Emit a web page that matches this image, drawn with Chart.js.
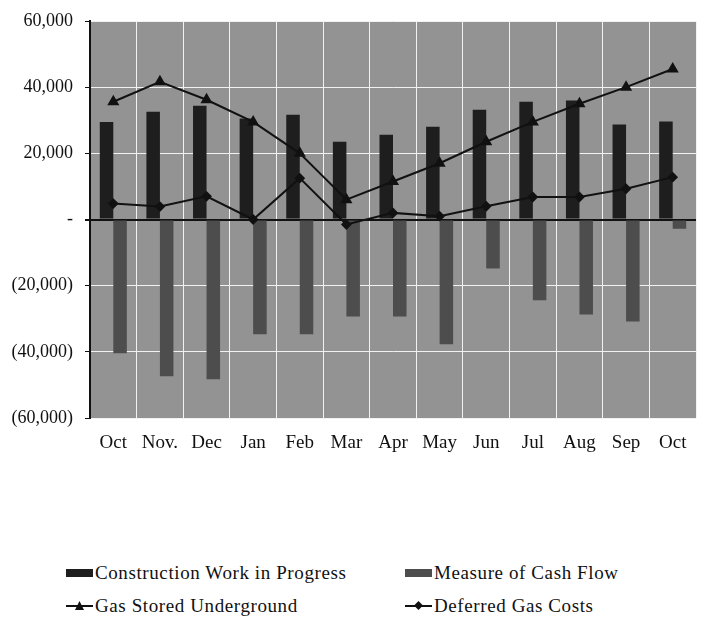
<!DOCTYPE html>
<html>
<head>
<meta charset="utf-8">
<script src="https://cdn.jsdelivr.net/npm/chart.js@4.4.1/dist/chart.umd.min.js"></script>
<style>
  html, body { margin: 0; padding: 0; background: #fff; }
  #wrap { position: relative; width: 703px; height: 620px; }
  #chart-box { position: absolute; left: 0; top: 0; width: 703px; height: 460px; }
  .legend-item { position: absolute; font-family: "Liberation Serif", "Times New Roman", serif; font-size: 19px; letter-spacing: 0.6px; color: #111; white-space: nowrap; line-height: 20px; }
  .swatch { display: inline-block; position: relative; width: 27px; height: 20px; vertical-align: top; margin-right: 2px; }
  .swatch .bar { position: absolute; left: 0; top: 6px; width: 27px; height: 8px; }
  .swatch .line { position: absolute; left: 0; top: 9px; width: 27px; height: 2px; background: #111; }
  .swatch .mark { position: absolute; left: 9px; top: 5px; width: 9px; height: 9px; }
</style>
</head>
<body>
<div id="wrap">
  <div id="chart-box"><canvas id="cash-chart" width="703" height="460"></canvas></div>
  <div id="legend"></div>
</div>
<script>
const months = ['Oct', 'Nov.', 'Dec', 'Jan', 'Feb', 'Mar', 'Apr', 'May', 'Jun', 'Jul', 'Aug', 'Sep', 'Oct'];
const constructionWip = [29500, 32600, 34400, 30500, 31700, 23500, 25600, 28000, 33200, 35600, 36000, 28700, 29600];
const cashFlow = [-40400, -47400, -48300, -34700, -34700, -29300, -29300, -37700, -14800, -24400, -28700, -30800, -2800];
const gasStored = [35600, 41600, 36200, 29500, 20000, 6000, 11500, 17000, 23500, 29500, 35000, 40000, 45500];
const deferredGas = [4800, 3900, 7000, 0, 12500, -1500, 2000, 1000, 4000, 6800, 6800, 9300, 12800];
const yTicks = [-60000, -40000, -20000, 0, 20000, 40000, 60000];

const serif = '"Liberation Serif", "Times New Roman", serif';

function fmtTick(v) {
    if (v === 0) return '-';
    const s = Math.abs(v).toLocaleString('en-US');
    return v < 0 ? '(' + s + ')' : s;
}

// grey plot area like the scanned original
const plotBg = {
    id: 'plotBg',
    beforeDraw(chart) {
        const a = chart.chartArea;
        const ctx = chart.ctx;
        ctx.save();
        ctx.fillStyle = '#939393';
        ctx.fillRect(a.left, a.top, a.right - a.left, a.bottom - a.top);
        ctx.restore();
    }
};

const ctx = document.getElementById('cash-chart').getContext('2d');
const cashChart = new Chart(ctx, {
    type: 'bar',
    data: {
        labels: months,
        datasets: [
            {
                type: 'line',
                label: 'Gas Stored Underground',
                data: gasStored,
                borderColor: '#111',
                backgroundColor: '#111',
                borderWidth: 2,
                pointStyle: 'triangle',
                pointRadius: 5,
                tension: 0,
                order: 0
            },
            {
                type: 'line',
                label: 'Deferred Gas Costs',
                data: deferredGas,
                borderColor: '#111',
                backgroundColor: '#111',
                borderWidth: 2,
                pointStyle: 'rectRot',
                pointRadius: 4,
                tension: 0,
                order: 0
            },
            {
                label: 'Construction Work in Progress',
                data: constructionWip,
                backgroundColor: '#1e1e1e',
                categoryPercentage: 0.58,
                barPercentage: 1,
                order: 1
            },
            {
                label: 'Measure of Cash Flow',
                data: cashFlow,
                backgroundColor: '#4d4d4d',
                categoryPercentage: 0.58,
                barPercentage: 1,
                order: 1
            }
        ]
    },
    options: {
        responsive: false,
        animation: false,
        layout: { padding: { left: 0, right: 2, top: 20, bottom: 0 } },
        plugins: {
            legend: { display: false },
            tooltip: { enabled: false }
        },
        scales: {
            x: {
                grid: { color: '#f2f2f2', lineWidth: 1, offset: true, drawTicks: false },
                border: { display: false },
                ticks: { color: '#111', font: { family: serif, size: 19 }, padding: 14, maxRotation: 0, autoSkip: false },
                afterFit(scale) { scale.height = 42; }
            },
            y: {
                min: yTicks[0],
                max: yTicks[yTicks.length - 1],
                afterBuildTicks(scale) { scale.ticks = yTicks.map(v => ({ value: v })); },
                grid: {
                    color: c => (c.tick && c.tick.value === 0 ? '#111' : '#f2f2f2'),
                    lineWidth: c => (c.tick && c.tick.value === 0 ? 2 : 1),
                    tickColor: '#111',
                    tickLength: 5
                },
                border: { color: '#111', width: 2 },
                ticks: { color: '#111', font: { family: serif, size: 18, lineHeight: 1 }, padding: 12, callback: fmtTick },
                afterFit(scale) { scale.width = 90; }
            }
        }
    },
    plugins: [plotBg]
});

// legend laid out in two columns like the original
const legendPos = [
    { i: 2, x: 66, y: 563 },
    { i: 3, x: 405, y: 563 },
    { i: 0, x: 66, y: 596 },
    { i: 1, x: 405, y: 596 }
];
const legend = document.getElementById('legend');
legendPos.forEach(p => {
    const ds = cashChart.data.datasets[p.i];
    const item = document.createElement('div');
    item.className = 'legend-item';
    item.style.left = p.x + 'px';
    item.style.top = p.y + 'px';
    const sw = document.createElement('span');
    sw.className = 'swatch';
    if (ds.type === 'line') {
        const ln = document.createElement('span');
        ln.className = 'line';
        sw.appendChild(ln);
        const mk = document.createElement('span');
        mk.className = 'mark';
        mk.style.background = '#111';
        if (ds.pointStyle === 'triangle') {
            mk.style.clipPath = 'polygon(50% 0, 100% 100%, 0 100%)';
        } else {
            mk.style.clipPath = 'polygon(50% 0, 100% 50%, 50% 100%, 0 50%)';
        }
        sw.appendChild(mk);
    } else {
        const b = document.createElement('span');
        b.className = 'bar';
        b.style.background = ds.backgroundColor;
        sw.appendChild(b);
    }
    item.appendChild(sw);
    item.appendChild(document.createTextNode(ds.label));
    legend.appendChild(item);
});
</script>
</body>
</html>
